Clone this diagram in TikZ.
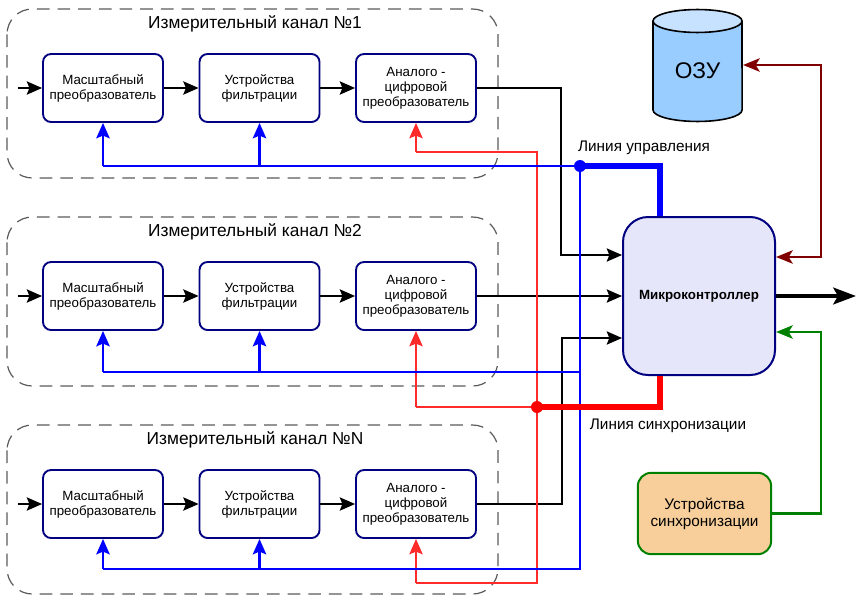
\documentclass[tikz,border=0pt]{standalone}
\usepackage{fontspec}
\setmainfont{Liberation Sans}
\usetikzlibrary{arrows.meta}

\definecolor{navyline}{HTML}{000080}
\definecolor{chgray}{HTML}{5A5A5A}
\definecolor{mcfill}{HTML}{E6E6FA}
\definecolor{syfill}{HTML}{F8CF9B}
\definecolor{sygreen}{HTML}{008000}
\definecolor{ramred}{HTML}{800000}
\definecolor{ozuside}{HTML}{99CCFF}
\definecolor{ozutop}{HTML}{C6E2FF}
\definecolor{synred}{HTML}{FF2A2A}

\tikzset{
  block/.style={draw=navyline, line width=1.4pt, rounded corners=6pt, fill=white,
    minimum width=90pt, minimum height=51pt, inner sep=0pt, align=center,
    font=\fontsize{10}{11.25}\selectfont},
  chanbox/.style={draw=chgray, line width=0.9pt, dash pattern=on 9.5pt off 6pt, rounded corners=19pt},
  title/.style={font=\fontsize{13}{15}\selectfont},
  lbl/.style={font=\fontsize{11.5}{13}\selectfont},
  tip/.style={-{Stealth[length=11.5pt, width=10pt, inset=2pt]}},
  sig/.style={tip, line width=1.1pt},
  ctl/.style={blue, line width=1.8pt},
  ctlthick/.style={blue, line width=3.8pt},
  syn/.style={synred, line width=1.5pt},
  synthick/.style={red, line width=3.8pt},
  ramline/.style={ramred, line width=2pt, {Stealth[length=12.5pt, width=10pt, inset=3pt]}-{Stealth[length=12.5pt, width=10pt, inset=3pt]}},
  syline/.style={sygreen, line width=2pt, -{Stealth[length=12.5pt, width=10pt, inset=3pt]}},
  outline/.style={line width=3pt, -{Stealth[length=17pt, width=12.5pt, inset=3.5pt]}}
}

\begin{document}
\begin{tikzpicture}[x=0.75pt, y=-0.75pt]
\useasboundingbox (0,0) rectangle (862,603);

% channels
\foreach \k/\yc/\lab in {1/88/1, 2/296/2, 3/504/N} {
  \draw[chanbox] (7,\yc-79) rectangle (498,\yc+90);
  \node[title] (t\k) at (255,\yc-64) {Измерительный канал №\lab};
  \node[block] (ms\k) at (103,\yc) {Масштабный\\преобразователь};
  \node[block] (fl\k) at (259.5,\yc) {Устройства\\фильтрации};
  \node[block] (adc\k) at (416,\yc) {Аналого -\\цифровой\\преобразователь};
  \coordinate (in\k) at (18,\yc);
  \draw[sig] (in\k) -- (ms\k);
  \draw[sig] (ms\k) -- (fl\k);
  \draw[sig] (fl\k) -- (adc\k);
}

\node[draw=navyline, line width=1.5pt, fill=mcfill, rounded corners=18.75pt,
  minimum width=114pt, minimum height=118.5pt, font=\bfseries\fontsize{10}{12}\selectfont] (mc) at (699,296) {Микроконтроллер};

\node[draw=sygreen, line width=1.5pt, fill=syfill, rounded corners=10pt, align=center,
  minimum width=100pt, minimum height=61pt, font=\fontsize{11.5}{12.75}\selectfont] (sync) at (704.5,513.5) {Устройства\\синхронизации};

% ОЗУ
\draw[line width=1.2pt, fill=ozuside] (653,21) -- (653,110) arc[start angle=180, end angle=360, x radius=33.4pt, y radius=8.6pt] -- (742,21);
\draw[line width=1.2pt, fill=ozutop] (697.5,21) ellipse[x radius=33.4pt, y radius=8.6pt];
\node[font=\fontsize{17}{20}\selectfont] (ozu) at (697.5,71) {ОЗУ};
\coordinate (ozur) at (743,65);

% data to controller
\draw[sig] (adc1.east) -| (561,255) -- ([yshift=30.75pt]mc.west);
\draw[sig] (adc2.east) -- (mc.west);
\draw[sig] (adc3.east) -| (562,338) -- ([yshift=-31.5pt]mc.west);

% sync line
\coordinate (syj) at (537,407);
\coordinate (syt) at (537,152);
\coordinate (syb) at (537,583);
\draw[syn] (adc1.south |- syt) -- (syt) -- (syb) -- (adc3.south |- syb);
\draw[syn] (syj) -- (adc2.south |- syj);
\draw[syn, tip] (adc1.south |- syt) -- (adc1.south);
\draw[syn, tip] (adc2.south |- syj) -- (adc2.south);
\draw[syn, tip] (adc3.south |- syb) -- (adc3.south);

% control line
\coordinate (ctlj) at (580,166);
\coordinate (ctl2) at (580,372);
\coordinate (ctlb) at (580,569);
\draw[ctl] (ms1.south |- ctlj) -- (ctlj) -- (ctlb) -- (ms3.south |- ctlb);
\draw[ctl] (ms2.south |- ctl2) -- (ctl2);
\foreach \k/\c in {1/ctlj, 2/ctl2, 3/ctlb} {
  \draw[ctl, tip] (ms\k.south |- \c) -- (ms\k.south);
  \draw[ctl, tip] (fl\k.south |- \c) -- (fl\k.south);
}

\draw[synthick] (syj) -| ([xshift=-29.25pt]mc.south);
\draw[ctlthick] (ctlj) -| ([xshift=-29.25pt]mc.north);
\fill[red] (syj) circle[radius=4.5pt];
\fill[blue] (ctlj) circle[radius=4.5pt];

\node[lbl] (ctllbl) at (644,148) {Линия управления};
\node[lbl] (synlbl) at (668,426) {Линия синхронизации};

% memory, sync device, output
\draw[ramline] (ozur) -| (821,257) -- ([yshift=29.25pt]mc.east);
\draw[syline] (sync.east) -| (821,332) -- ([yshift=-27pt]mc.east);
\coordinate (out) at (856,296);
\draw[outline] (mc.east) -- (out);
\end{tikzpicture}
\end{document}
